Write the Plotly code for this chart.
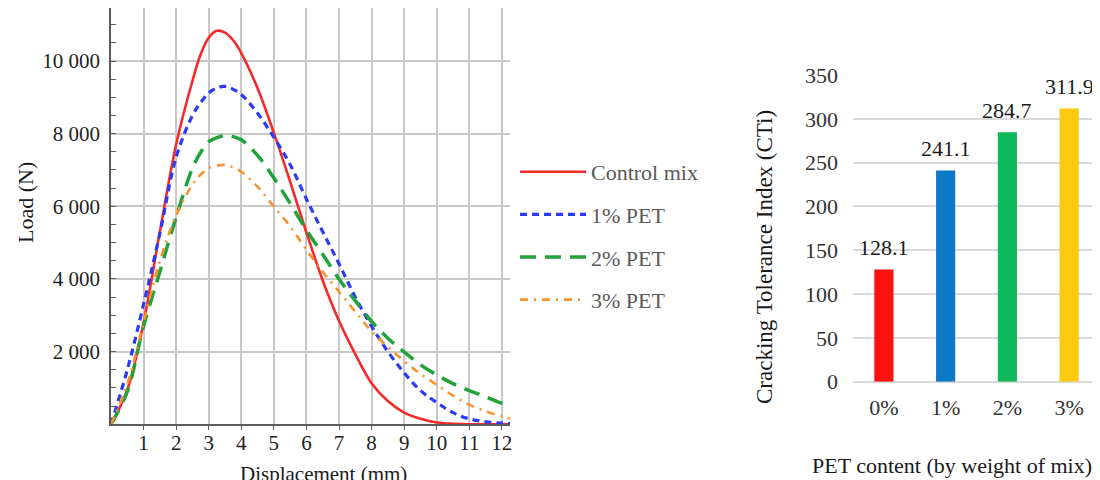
import plotly.graph_objects as go

# ---- Left chart: load vs displacement ----
disp = [0, 0.5, 1, 1.5, 2, 2.5, 2.75, 3, 3.25, 3.5, 3.75, 4, 4.5, 5, 5.5, 6, 6.5, 7, 7.5,
        8, 8.5, 9, 9.5, 10, 10.5, 11, 11.5, 12, 12.25]
control_mix = [0, 950, 2800, 5300, 7700, 9450, 10180, 10640, 10830, 10780, 10570, 10220,
               9250, 8020, 6680, 5280, 3960, 2850, 1930, 1130, 640, 320, 150, 50, 15, 0,
               0, 0, 0]
pet_1 = [0, 1500, 3300, 5250, 7350, 8500, 8850, 9120, 9260, 9300, 9220, 9080, 8560, 7900,
         7150, 6200, 5300, 4420, 3500, 2700, 2000, 1420, 930, 600, 320, 150, 70, 30, 20]
pet_2 = [0, 900, 2700, 4200, 5700, 7050, 7480, 7780, 7890, 7950, 7920, 7830, 7400, 6780,
         6080, 5350, 4680, 4000, 3400, 2830, 2370, 1990, 1640, 1360, 1120, 930, 760, 580,
         530]
pet_3 = [0, 1100, 2800, 4500, 5750, 6600, 6870, 7050, 7120, 7140, 7070, 6950, 6540, 5990,
         5450, 4800, 4200, 3650, 3100, 2560, 2130, 1740, 1390, 1090, 790, 540, 360, 220,
         160]

series_names = ["Control mix", "1% PET", "2% PET", "3% PET"]
x_ticks = [1, 2, 3, 4, 5, 6, 7, 8, 9, 10, 11, 12]
y_ticks = [2000, 4000, 6000, 8000, 10000]
y_ticktext = ["2 000", "4 000", "6 000", "8 000", "10 000"]

# ---- Right chart: CTi ----
pet_content = ["0%", "1%", "2%", "3%"]
cti = [128.1, 241.1, 284.7, 311.9]
bar_colors = ["#FF1010", "#0C78C8", "#0DB959", "#FFC90E"]

FAM = "Liberation Serif"

# page is offset by the default 8px body margin: work in page pixels
OX, OY = 8, 8
W, H = 1092, 472


def px(x):
    return (x - OX) / W


def py(y):
    return 1 - (y - OY) / H


line_styles = [
    dict(color="#F52A2A", width=2.6, dash="solid"),
    dict(color="#2B3BF5", width=3.2, dash="7px,5px"),
    dict(color="#22A33A", width=3.5, dash="16px,9px"),
    dict(color="#F7922F", width=2.6, dash="8px,6px,2px,6px"),
]

fig = go.Figure()
for name, ys, ls in zip(series_names, [control_mix, pet_1, pet_2, pet_3], line_styles):
    fig.add_trace(go.Scatter(
        x=disp, y=ys, name=name, mode="lines", line=dict(shape="spline", smoothing=1.0, **ls),
        legendgroup=name, xaxis="x", yaxis="y"))

fig.add_trace(go.Bar(
    x=pet_content, y=cti, marker=dict(color=bar_colors, line=dict(width=0)),
    showlegend=False, xaxis="x2", yaxis="y2"))

for cat, v in zip(pet_content, cti):
    fig.add_annotation(x=cat, y=v, xref="x2", yref="y2", text=f"{v:.1f}",
                       showarrow=False, xanchor="center", yanchor="middle", yshift=22,
                       font=dict(family=FAM, size=22, color="#1a1a1a"))

fig.update_layout(
    width=W, height=H, autosize=False,
    margin=dict(l=0, r=0, t=0, b=0, pad=0, autoexpand=False),
    paper_bgcolor="white", plot_bgcolor="white",
    font=dict(family=FAM, color="#222222"),
    bargap=0.69,
    legend=dict(x=px(515), y=py(151), xanchor="left", yanchor="top",
                font=dict(family=FAM, size=22, color="#595959"), itemwidth=66,
                tracegroupgap=11, bgcolor="rgba(0,0,0,0)"),
    xaxis=dict(domain=[px(111), px(510)], range=[0, 12.25], tickmode="array",
               tickvals=x_ticks, showgrid=True, gridcolor="#c8c8c8", gridwidth=1.6,
               showline=True, linecolor="#5a5a5a", linewidth=1.6, zeroline=False,
               ticks="outside", ticklen=4, tickcolor="#5a5a5a", automargin=False,
               ticklabelstandoff=-5,
               tickfont=dict(family=FAM, size=21, color="#222222")),
    yaxis=dict(domain=[py(424.3), 1.0], range=[0, (424.3 - 8) / 0.03633], tickmode="array",
               tickvals=y_ticks, ticktext=y_ticktext, showgrid=True, gridcolor="#c8c8c8",
               gridwidth=1.6, showline=True, linecolor="#5a5a5a", linewidth=1.6,
               zeroline=False, ticks="inside", ticklen=5, tickcolor="#5a5a5a",
               minor=dict(tickmode="linear", tick0=0, dtick=500, ticks="inside",
                          ticklen=5, tickcolor="#5a5a5a", showgrid=False),
               automargin=False, ticklabelstandoff=5,
               tickfont=dict(family=FAM, size=21, color="#222222")),
    xaxis2=dict(domain=[px(853), 1.0], anchor="y2", showgrid=False, showline=False,
                ticks="", ticklabelstandoff=10, automargin=False,
                tickfont=dict(family=FAM, size=22, color="#333333")),
    yaxis2=dict(domain=[py(381.7), py(75)], anchor="x2", range=[0, 350], dtick=50,
                showgrid=True, gridcolor="#d9d9d9", gridwidth=1.6, zeroline=True,
                zerolinecolor="#d9d9d9", zerolinewidth=1.6, showline=False, ticks="",
                ticklabelstandoff=14, automargin=False,
                tickfont=dict(family=FAM, size=22, color="#333333")),
)

titles = [
    ("Load (N)", 25, 203, -90, 22),
    ("Displacement (mm)", 323, 474, 0, 21),
    ("Cracking Tolerance Index (CTi)", 764, 257, -90, 23),
    ("PET content (by weight of mix)", 952, 465, 0, 22),
]
for text, tx, ty, ang, size in titles:
    fig.add_annotation(x=px(tx), y=py(ty), xref="paper", yref="paper", text=text,
                       textangle=ang, showarrow=False, xanchor="center", yanchor="middle",
                       font=dict(family=FAM, size=size, color="#1a1a1a"))

fig.write_html("out.html")
